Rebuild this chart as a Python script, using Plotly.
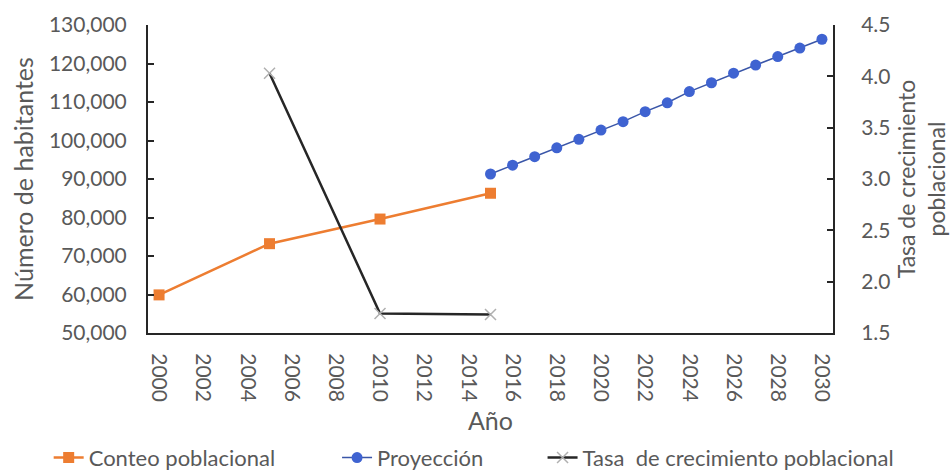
import plotly.graph_objects as go

# Population counts (census years)
years_conteo = [2000, 2005, 2010, 2015]
conteo = [59900, 73200, 79600, 86300]

# Projected population 2015-2030
years_proy = list(range(2015, 2031))
proyeccion = [91300, 93600, 95800, 98100, 100300, 102700, 104900, 107500,
              109800, 112700, 115000, 117500, 119600, 121800, 124000, 126300]

# Population growth rate
years_tasa = [2005, 2010, 2015]
tasa = [4.03, 1.69, 1.68]

# Axis ticks
x_ticks = list(range(2000, 2031, 2))
y_ticks = list(range(50000, 130001, 10000))
y2_ticks = [1.5, 2.0, 2.5, 3.0, 3.5, 4.0, 4.5]

FONT = "Lato, 'Open Sans', sans-serif"
GRAY = "#595959"
AXIS = "#262626"

fig = go.Figure()

fig.add_trace(go.Scatter(
    x=years_conteo, y=conteo, name="Conteo poblacional",
    mode="lines+markers", legend="legend",
    line=dict(color="#ED7D31", width=2.5),
    marker=dict(symbol="square", size=11, color="#ED7D31"),
))

fig.add_trace(go.Scatter(
    x=years_proy, y=proyeccion, name="Proyección",
    mode="lines+markers", legend="legend2",
    line=dict(color="#3A56A8", width=1.5),
    marker=dict(symbol="circle", size=11, color="#3F63D1"),
))

fig.add_trace(go.Scatter(
    x=years_tasa, y=tasa, name="Tasa  de crecimiento poblacional",
    mode="lines+markers", yaxis="y2", legend="legend3",
    line=dict(color=AXIS, width=2.5),
    marker=dict(symbol="x-thin-open", size=11, color="#B0B0B0",
                line=dict(color="#B0B0B0", width=1.5)),
))

legend_style = dict(
    orientation="h", xanchor="left", y=-0.405, yanchor="middle",
    font=dict(size=22, color=GRAY), bgcolor="rgba(0,0,0,0)",
)

fig.update_layout(
    width=952, height=473,
    margin=dict(l=148, r=119, t=25, b=140, autoexpand=False),
    paper_bgcolor="white", plot_bgcolor="white",
    font=dict(family=FONT, size=21, color=GRAY),
    showlegend=True,
    legend=dict(x=-0.145, **legend_style),
    legend2=dict(x=0.276, **legend_style),
    legend3=dict(x=0.576, **legend_style),
    xaxis=dict(
        range=[1999.5, 2030.5],
        tickvals=x_ticks, ticktext=[str(v) for v in x_ticks],
        tickangle=90, ticks="", showgrid=False, zeroline=False,
        showline=True, linecolor=AXIS, linewidth=2,
        ticklabelstandoff=14,
        title=dict(text="Año", standoff=12, font=dict(size=25, color=GRAY)),
        tickfont=dict(size=21, color=GRAY),
    ),
    yaxis=dict(
        range=[50000, 130000], tickvals=y_ticks, tickformat=",",
        ticks="inside", ticklen=6, tickcolor=AXIS, tickwidth=1.5,
        showgrid=False, zeroline=False,
        showline=True, linecolor=AXIS, linewidth=2,
        ticklabelstandoff=15,
        title=dict(text="Número de habitantes", standoff=8,
                   font=dict(size=25, color=GRAY)),
        tickfont=dict(size=21, color=GRAY),
    ),
    yaxis2=dict(
        range=[1.5, 4.5], tickvals=y2_ticks, tickformat=".1f",
        overlaying="y", side="right",
        ticks="inside", ticklen=6, tickcolor=AXIS, tickwidth=1.5,
        showgrid=False, zeroline=False,
        showline=True, linecolor=AXIS, linewidth=2,
        ticklabelstandoff=22,
        title=dict(text="Tasa de crecimiento<br>poblacional", standoff=9,
                   font=dict(size=23, color=GRAY)),
        tickfont=dict(size=21, color=GRAY),
    ),
)

fig.write_html("out.html")
